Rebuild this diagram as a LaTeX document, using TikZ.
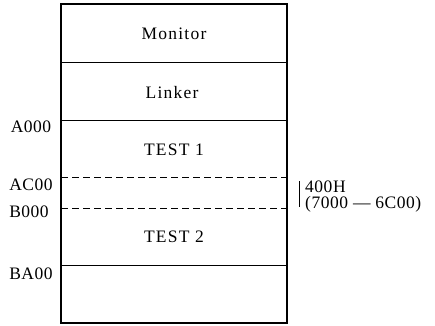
\documentclass[tikz,border=0pt]{standalone}
\usepackage{fontspec}
\setmainfont{Liberation Serif}
\begin{document}
\begin{tikzpicture}[x=1pt,y=-1pt,
  addr/.style={font=\fontsize{17.5}{16.5}\selectfont\addfontfeature{LetterSpace=3}, inner sep=0pt},
  region/.style={font=\fontsize{17.5}{18}\selectfont\addfontfeature{LetterSpace=7}, inner sep=0pt},
  divider/.style={line width=0.9pt},
  gap/.style={line width=0.9pt, dash pattern=on 7pt off 4pt},
  frame/.style={line width=1.8pt}]
\useasboundingbox (0,0) rectangle (435,325);
% memory map frame
\coordinate (tl) at (61,4);
\coordinate (br) at (287,323);
\draw[frame] (tl) rectangle (br);
% boundaries between regions
\coordinate (m1l) at (61,62);   \coordinate (m1r) at (287,62);
\coordinate (m2l) at (61,120);  \coordinate (m2r) at (287,120);
\coordinate (d1l) at (61,177);  \coordinate (d1r) at (287,177);
\coordinate (d2l) at (61,208);  \coordinate (d2r) at (287,208);
\coordinate (m3l) at (61,265);  \coordinate (m3r) at (287,265);
\draw[divider] (m1l) -- (m1r);
\draw[divider] (m2l) -- (m2r);
\draw[gap] (d1l) -- (d1r);
\draw[gap] (d2l) -- (d2r);
\draw[divider] (m3l) -- (m3r);
% region names
\node[region] (mon) at (174,34) {Monitor};
\node[region] (lnk) at (172,93) {Linker};
\node[region] (t1) at (174,150) {TEST 1};
\node[region] (t2) at (174,237) {TEST 2};
% addresses
\node[addr] (a000) at (31,127) {A000};
\node[addr] (ac00) at (31,185) {AC00};
\node[addr] (b000) at (29,212) {B000};
\node[addr] (ba00) at (31,274) {BA00};
% size of the gap
\coordinate (bt) at (299,181);
\coordinate (bb) at (299,207);
\draw[line width=0.7pt] (bt) -- (bb);
\node[addr, anchor=west, align=left] (sz) at (305,196.5) {400H\\(7000 --- 6C00)};
\end{tikzpicture}
\end{document}
